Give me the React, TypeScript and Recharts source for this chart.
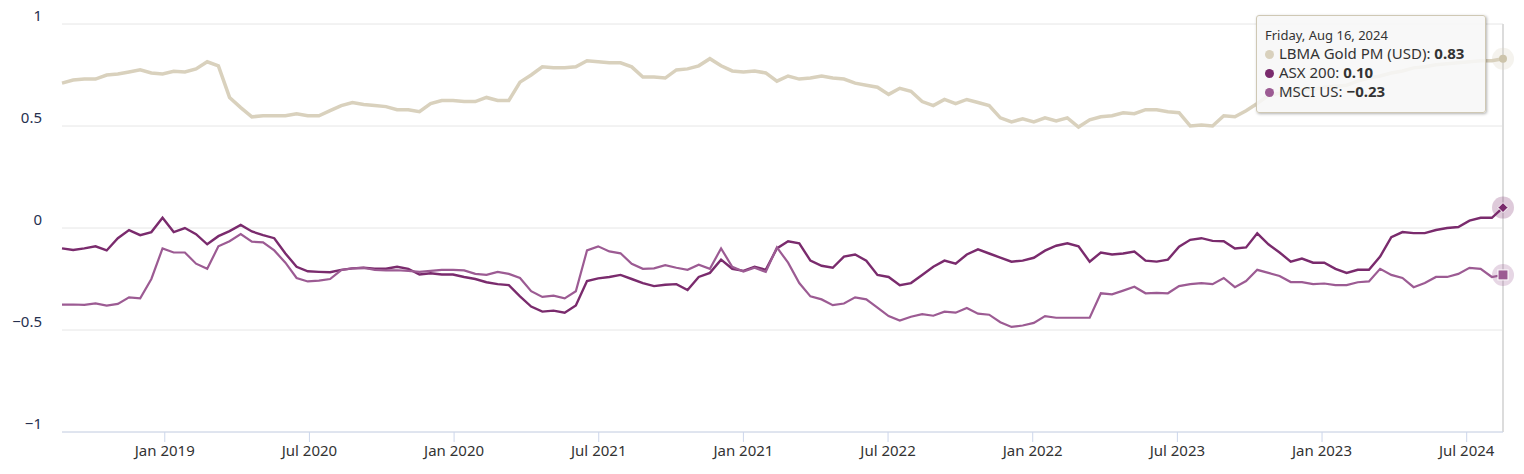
import React from "react";
import { LineChart, Line, XAxis, YAxis, CartesianGrid, Tooltip, ReferenceLine } from "recharts";

// fortnightly observations, last one is Friday Aug 16, 2024
const START = Date.UTC(2019, 8, 6);
const DAY = 86400000;
const DATES = Array.from({ length: 130 }, (_, i) => new Date(START + i * 14 * DAY));

const TICK_LABELS = ["Jan 2019", "Jul 2020", "Jan 2020", "Jul 2021", "Jan 2021", "Jul 2022", "Jan 2022", "Jul 2023", "Jan 2023", "Jul 2024"];

const GOLD = [
  0.71, 0.725, 0.73, 0.73, 0.75, 0.755, 0.765, 0.775, 0.76, 0.755,
  0.768, 0.765, 0.78, 0.815, 0.795, 0.64, 0.59, 0.545, 0.55, 0.55,
  0.55, 0.56, 0.55, 0.55, 0.575, 0.6, 0.615, 0.605, 0.6, 0.595,
  0.58, 0.58, 0.57, 0.61, 0.625, 0.625, 0.62, 0.62, 0.64, 0.625,
  0.625, 0.715, 0.75, 0.79, 0.785, 0.785, 0.79, 0.82, 0.815, 0.81,
  0.81, 0.79, 0.74, 0.74, 0.735, 0.775, 0.78, 0.795, 0.83, 0.795,
  0.77, 0.765, 0.77, 0.76, 0.72, 0.745, 0.73, 0.735, 0.745, 0.735,
  0.73, 0.71, 0.7, 0.69, 0.655, 0.685, 0.67, 0.62, 0.6, 0.63,
  0.61, 0.63, 0.615, 0.6, 0.54, 0.52, 0.535, 0.52, 0.54, 0.525,
  0.54, 0.495, 0.53, 0.545, 0.55, 0.565, 0.56, 0.58, 0.58, 0.57,
  0.565, 0.5, 0.505, 0.5, 0.55, 0.545, 0.575, 0.61, 0.65, 0.66,
  0.665, 0.675, 0.68, 0.69, 0.695, 0.7, 0.72, 0.735, 0.745, 0.76,
  0.77, 0.785, 0.79, 0.8, 0.805, 0.81, 0.815, 0.82, 0.82, 0.83,
];

const ASX = [
  -0.1, -0.108, -0.1, -0.09, -0.11, -0.05, -0.01, -0.035, -0.02, 0.05,
  -0.02, 0.0, -0.03, -0.08, -0.04, -0.015, 0.015, -0.017, -0.035, -0.05,
  -0.125, -0.19, -0.212, -0.215, -0.217, -0.205, -0.198, -0.195, -0.2, -0.2,
  -0.19, -0.2, -0.228, -0.222, -0.228, -0.228, -0.24, -0.25, -0.266, -0.275,
  -0.28, -0.335, -0.385, -0.41, -0.405, -0.415, -0.38, -0.26, -0.247, -0.24,
  -0.23, -0.25, -0.27, -0.285, -0.278, -0.275, -0.304, -0.24, -0.22, -0.155,
  -0.2, -0.21, -0.19, -0.205, -0.1, -0.065, -0.075, -0.16, -0.185, -0.195,
  -0.14, -0.13, -0.16, -0.23, -0.24, -0.28, -0.27, -0.23, -0.19, -0.16,
  -0.175, -0.13, -0.105, -0.125, -0.145, -0.165, -0.16, -0.146, -0.111, -0.087,
  -0.075, -0.09, -0.165, -0.12, -0.13, -0.125, -0.115, -0.16, -0.165, -0.155,
  -0.092, -0.058, -0.05, -0.063, -0.065, -0.1, -0.095, -0.026, -0.08, -0.12,
  -0.165, -0.15, -0.17, -0.17, -0.2, -0.22, -0.205, -0.205, -0.14, -0.045,
  -0.02, -0.025, -0.025, -0.01, 0.0, 0.005, 0.036, 0.05, 0.05, 0.1,
];

const MSCI = [
  -0.376, -0.375, -0.377, -0.37, -0.38, -0.372, -0.34, -0.345, -0.25, -0.1,
  -0.12, -0.12, -0.175, -0.2, -0.09, -0.065, -0.03, -0.067, -0.07, -0.11,
  -0.17, -0.245, -0.262, -0.258, -0.25, -0.206, -0.198, -0.195, -0.205, -0.208,
  -0.207, -0.21, -0.215, -0.21, -0.205, -0.205, -0.208, -0.225, -0.23, -0.215,
  -0.225, -0.245, -0.31, -0.338, -0.332, -0.345, -0.31, -0.11, -0.09, -0.115,
  -0.124, -0.175, -0.2, -0.198, -0.182, -0.195, -0.205, -0.18, -0.2, -0.1,
  -0.19, -0.213, -0.195, -0.215, -0.095, -0.17, -0.27, -0.335, -0.35, -0.378,
  -0.37, -0.34, -0.35, -0.39, -0.432, -0.454, -0.435, -0.422, -0.43, -0.41,
  -0.415, -0.392, -0.42, -0.425, -0.462, -0.485, -0.478, -0.465, -0.432, -0.44,
  -0.44, -0.44, -0.44, -0.32, -0.325, -0.307, -0.288, -0.32, -0.318, -0.32,
  -0.285, -0.275, -0.27, -0.275, -0.245, -0.29, -0.26, -0.205, -0.22, -0.235,
  -0.265, -0.265, -0.275, -0.272, -0.28, -0.28, -0.266, -0.262, -0.2, -0.23,
  -0.245, -0.29, -0.27, -0.24, -0.24, -0.225, -0.195, -0.2, -0.24, -0.23,
];

const SERIES = [
  { key: "gold", name: "LBMA Gold PM (USD)", color: "#d9d1bd", width: 3.5, shape: "circle" },
  { key: "asx", name: "ASX 200", color: "#7a2b6d", width: 2.4, shape: "diamond" },
  { key: "msci", name: "MSCI US", color: "#9c5b93", width: 2.2, shape: "square" },
];

const data = DATES.map((d, i) => ({ i, gold: GOLD[i], asx: ASX[i], msci: MSCI[i] }));
const LAST = data.length - 1;
const TICKS = TICK_LABELS.map((_, k) => 9.2 + k * 12.95);

const FONT = '"Noto Sans", sans-serif';
const minus = (s: string) => s.replace("-", "\u2212");

const YTick = ({ x, y, payload }: any) => (
  <text x={x} y={y - 8} dy="0.35em" textAnchor="end" fill="#26304f" fontSize={15} fontFamily={FONT}>
    {minus(String(payload.value))}
  </text>
);

const marker = (color: string, shape: string) => (props: any) => {
  const { cx, cy, index } = props;
  if (index !== LAST) return <g key={`d${index}`} />;
  return (
    <g key={`d${index}`}>
      <circle cx={cx} cy={cy} r={11} fill={color} fillOpacity={0.25} />
      {shape === "circle" && <circle cx={cx} cy={cy} r={4} fill="#cdc4ab" />}
      {shape === "diamond" && (
        <path d={`M${cx},${cy - 5}L${cx + 5},${cy}L${cx},${cy + 5}L${cx - 5},${cy}Z`} fill={color} stroke="#fff" strokeWidth={1} />
      )}
      {shape === "square" && <rect x={cx - 5} y={cy - 5} width={10} height={10} fill={color} stroke="#fff" strokeWidth={1} />}
    </g>
  );
};

const TipBox = ({ payload, label }: any) => {
  if (!payload || !payload.length) return null;
  const d = DATES[label ?? LAST];
  const title = d.toLocaleDateString("en-US", { weekday: "long", month: "short", day: "numeric", year: "numeric", timeZone: "UTC" });
  return (
    <div
      style={{
        boxSizing: "border-box",
        width: 230,
        height: 98,
        padding: "10px 8px",
        background: "rgba(247,247,247,0.88)",
        border: "1px solid #cfc8b4",
        borderRadius: 3,
        boxShadow: "1px 1px 3px rgba(0,0,0,0.3)",
        fontFamily: FONT,
        color: "#333",
      }}
    >
      <div style={{ fontSize: 13, lineHeight: "18px" }}>{title}</div>
      {payload.map((p: any) => (
        <div key={p.dataKey} style={{ fontSize: 15, lineHeight: "19px", whiteSpace: "nowrap" }}>
          <span
            style={{
              display: "inline-block",
              width: 9,
              height: 9,
              borderRadius: "50%",
              background: p.color,
              marginRight: 5,
              verticalAlign: "middle",
            }}
          />
          {p.name}: <b>{minus(p.value.toFixed(2))}</b>
        </div>
      ))}
    </div>
  );
};

export default function App() {
  return (
    <div style={{ position: "absolute", left: 0, top: 0, background: "#fff" }}>
      <LineChart width={1524} height={474} data={data} margin={{ top: 24, right: 21, bottom: 0, left: 0 }}>
        <CartesianGrid vertical={false} stroke="#e6e6e6" />
        <XAxis
          dataKey="i"
          type="number"
          domain={[0, LAST]}
          ticks={TICKS}
          interval={0}
          tickFormatter={(_v: number, k: number) => TICK_LABELS[k]}
          height={42}
          tickSize={10}
          tickMargin={3}
          axisLine={{ stroke: "#ccd6eb" }}
          tickLine={{ stroke: "#ccd6eb" }}
          tick={{ fill: "#333", fontSize: 15, fontFamily: FONT }}
        />
        <YAxis
          domain={[-1, 1]}
          ticks={[-1, -0.5, 0, 0.5, 1]}
          width={62}
          axisLine={false}
          tickLine={false}
          tickSize={0}
          tickMargin={20}
          tick={<YTick />}
        />
        <ReferenceLine x={LAST} stroke="#dcdcdc" strokeWidth={2} />
        {SERIES.map((s) => (
          <Line
            key={s.key}
            type="linear"
            dataKey={s.key}
            name={s.name}
            stroke={s.color}
            strokeWidth={s.width}
            dot={marker(s.color, s.shape)}
            activeDot={false}
            isAnimationActive={false}
          />
        ))}
        <Tooltip
          defaultIndex={LAST}
          active
          isAnimationActive={false}
          cursor={false}
          position={{ x: 1256, y: 15 }}
          content={<TipBox />}
        />
      </LineChart>
    </div>
  );
}
